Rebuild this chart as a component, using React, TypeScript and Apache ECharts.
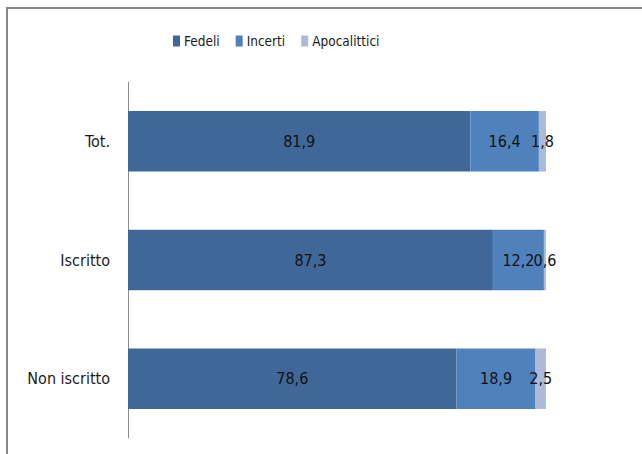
import React, { useEffect, useRef } from "react";
import * as echarts from "echarts";

// Categories (top to bottom) and the three stacked shares, in percent
const categories = ["Tot.", "Iscritto", "Non iscritto"];
const fedeli = [81.9, 87.3, 78.6];
const incerti = [16.4, 12.2, 18.9];
const apocalittici = [1.8, 0.6, 2.5];
const seriesNames = ["Fedeli", "Incerti", "Apocalittici"];
const seriesColors = ["#3F6899", "#4F81BD", "#AABAD7"];

const FONT = "'DejaVu Sans Condensed', 'Liberation Sans', sans-serif";

const fmt = (v: number) => String(v).replace(".", ",");

export default function App() {
  const ref = useRef<HTMLDivElement>(null);

  useEffect(() => {
    if (!ref.current) return;
    const chart = echarts.init(ref.current, undefined, { renderer: "svg" });
    const values = [fedeli, incerti, apocalittici];

    chart.setOption({
      animation: false,
      backgroundColor: "#ffffff",
      textStyle: { fontFamily: FONT },
      graphic: [
        {
          type: "rect",
          shape: { x: 7, y: 8, width: 700, height: 500 },
          style: { fill: "none", stroke: "#878787", lineWidth: 2 },
          silent: true,
        },
      ],
      legend: {
        left: 168,
        top: 29,
        itemWidth: 7,
        itemHeight: 11,
        itemGap: 16,
        icon: "rect",
        textStyle: { fontFamily: FONT, fontSize: 13.5, color: "#1a1a1a", padding: [0, 0, 0, -1] },
        data: seriesNames,
      },
      grid: { left: 128, top: 82, width: 418, height: 356, containLabel: false },
      xAxis: {
        type: "value",
        min: 0,
        max: 100,
        show: false,
        splitLine: { show: false },
      },
      yAxis: {
        type: "category",
        data: categories,
        inverse: true,
        axisLine: { show: true, lineStyle: { color: "#8c8c8c", width: 1 } },
        axisTick: { show: false },
        axisLabel: { margin: 18, fontFamily: FONT, fontSize: 16, color: "#1a1a1a" },
      },
      series: seriesNames.map((name, i) => ({
        name,
        type: "bar",
        stack: "tot",
        barCategoryGap: "49%",
        itemStyle: { color: seriesColors[i] },
        label: {
          show: true,
          position: "inside",
          color: "#111111",
          fontFamily: FONT,
          fontSize: 16,
          formatter: (p: any) => fmt(p.value),
        },
        data: values[i],
      })),
    });

    return () => chart.dispose();
  }, []);

  return (
    <div
      ref={ref}
      style={{ position: "fixed", left: 0, top: 0, width: 642, height: 454 }}
    />
  );
}
